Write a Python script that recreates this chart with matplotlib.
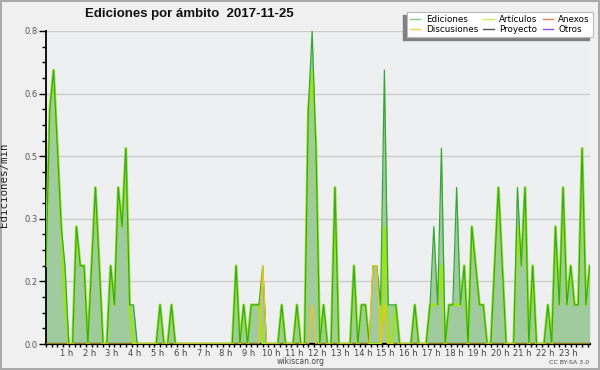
import numpy as np
import matplotlib
matplotlib.use("Agg")
import matplotlib.pyplot as plt
from matplotlib.lines import Line2D
from matplotlib.patches import Rectangle
from matplotlib.ticker import MultipleLocator, FixedLocator, FuncFormatter
import matplotlib.transforms as mtransforms

# edits per minute, one value per 10-minute bin (00:00 .. 23:50)
ediciones = [
    0.2, 0.6, 0.7, 0.5, 0.3, 0.2, 0, 0, 0.3, 0.2, 0.2, 0,
    0.2, 0.4, 0.2, 0, 0, 0.2, 0.1, 0.4, 0.3, 0.5, 0.1, 0.1,
    0, 0, 0, 0, 0, 0, 0.1, 0, 0, 0.1, 0, 0,
    0, 0, 0, 0, 0, 0, 0, 0, 0, 0, 0, 0,
    0, 0, 0.2, 0, 0.1, 0, 0.1, 0.1, 0.1, 0.2, 0, 0,
    0, 0, 0.1, 0, 0, 0, 0.1, 0, 0, 0.6, 0.8, 0.5,
    0, 0.1, 0, 0, 0.4, 0, 0, 0, 0, 0.2, 0, 0.1,
    0.1, 0, 0.2, 0.2, 0.1, 0.7, 0.1, 0.1, 0.1, 0, 0, 0,
    0, 0.1, 0, 0, 0, 0.1, 0.3, 0.1, 0.5, 0, 0.1, 0.1,
    0.4, 0.1, 0.2, 0, 0.3, 0.2, 0.1, 0.1, 0, 0, 0.2, 0.4,
    0.2, 0, 0, 0, 0.4, 0.2, 0.4, 0, 0.2, 0, 0, 0,
    0.1, 0, 0.3, 0.1, 0.4, 0.1, 0.2, 0.1, 0.1, 0.5, 0.1, 0.2,
]
articulos = [
    0.2, 0.6, 0.7, 0.5, 0.3, 0.1, 0, 0, 0.3, 0.2, 0.2, 0,
    0.2, 0.4, 0.2, 0, 0, 0.2, 0.1, 0.4, 0.3, 0.5, 0.1, 0,
    0, 0, 0, 0, 0, 0, 0.1, 0, 0, 0.1, 0, 0,
    0, 0, 0, 0, 0, 0, 0, 0, 0, 0, 0, 0,
    0, 0, 0.2, 0, 0.1, 0, 0.1, 0.1, 0.1, 0, 0, 0,
    0, 0, 0.1, 0, 0, 0, 0.1, 0, 0, 0.6, 0.7, 0.5,
    0, 0.1, 0, 0, 0.4, 0, 0, 0, 0, 0.2, 0, 0.1,
    0.1, 0, 0, 0, 0, 0.3, 0, 0, 0.1, 0, 0, 0,
    0, 0.1, 0, 0, 0, 0.1, 0.1, 0.1, 0.2, 0, 0.1, 0.1,
    0.1, 0.1, 0.2, 0, 0.3, 0.2, 0.1, 0.1, 0, 0, 0.2, 0.4,
    0.2, 0, 0, 0, 0.3, 0.2, 0.4, 0, 0.2, 0, 0, 0,
    0.1, 0, 0.3, 0.1, 0.4, 0.1, 0.2, 0.1, 0.1, 0.5, 0.1, 0.2,
]
discusiones = [0.0] * 144
for i, v in [(57, 0.2), (70, 0.1), (86, 0.2), (87, 0.2), (89, 0.1)]:
    discusiones[i] = v

hours = np.arange(len(ediciones)) / 6
hour_labels = ["%d h" % h for h in range(1, 24)]

c_ed = "#34a834"
c_fill = "#9fcb9f"
c_art = "#9ee41a"
c_disc = "#f2c418"
legend_colors = {
    "Ediciones": "#7fcf7f", "Discusiones": "#f5d050",
    "Artículos": "#c8f050", "Proyecto": "#555555",
    "Anexos": "#f08050", "Otros": "#9050e8",
}

fig = plt.figure(figsize=(6, 3.7), dpi=100, facecolor="#f0f0f0",
                 edgecolor="#aaaaaa", linewidth=1.5)
ax = fig.add_axes([46 / 600, 1 - 344 / 370, 543.7 / 600, 313 / 370])
ax.set_facecolor("#eeeff1")

ax.fill_between(hours, ediciones, color=c_fill, lw=0, zorder=2)
ax.plot(hours, articulos, color=c_art, lw=2.0, zorder=3)
ax.plot(hours, ediciones, color=c_ed, lw=0.9, zorder=4)
ax.plot(hours, discusiones, color=c_disc, lw=0.9, zorder=5)

ax.set_xlim(0, hours[-1])
ax.set_ylim(0, 0.8)

ax.yaxis.set_major_locator(FixedLocator(np.arange(0, 0.81, 0.16)))
ax.yaxis.set_minor_locator(MultipleLocator(0.04))
ax.yaxis.set_major_formatter(FuncFormatter(lambda v, p: "%.1f" % v))
ax.grid(axis="y", color="#cccccc", lw=1, zorder=1)

ax.xaxis.set_major_locator(FixedLocator(range(1, 24)))
ax.set_xticklabels(hour_labels)
ax.xaxis.set_minor_locator(MultipleLocator(0.25))

ax.tick_params(axis="y", which="major", length=5, width=1, pad=1,
               labelsize=6, labelcolor="#555555")
ax.tick_params(axis="y", which="minor", length=3, width=1)
ax.tick_params(axis="x", which="both", length=2.5, width=1, pad=1,
               labelsize=6, labelcolor="#444444")
shift = mtransforms.ScaledTranslation(-2.5 / 100, 0, fig.dpi_scale_trans)
for lab in ax.get_xticklabels():
    lab.set_transform(lab.get_transform() + shift)

for s in ["top", "right"]:
    ax.spines[s].set_visible(False)
ax.spines["left"].set_linewidth(1.3)
ax.spines["bottom"].set_linewidth(1.6)

ax.set_ylabel("Ediciones/min", family="DejaVu Sans Mono", fontsize=7.8,
              color="#222222")
ax.yaxis.set_label_coords(9 / 600, 1 - 185 / 370, transform=fig.transFigure)

fig.text(85 / 600, 1 - 14 / 370, "Ediciones por ámbito  2017-11-25",
         family="Liberation Sans", fontweight="bold", fontsize=9.5,
         ha="left", va="center", color="#111111")
fig.text(301 / 600, 1 - 361 / 370, "wikiscan.org", fontsize=5.5,
         color="#444444", ha="center", va="center")
fig.text(589 / 600, 1 - 362 / 370, "CC BY-SA 3.0", fontsize=4.5,
         color="#444444", ha="right", va="center")

order = ["Ediciones", "Discusiones", "Artículos", "Proyecto", "Anexos", "Otros"]
handles = [Line2D([], [], color=legend_colors[n], lw=1) for n in order]
leg = fig.legend(handles, order, loc="upper right", ncol=3,
                 bbox_to_anchor=(593 / 600, 1 - 12 / 370),
                 fontsize=6.3, frameon=True, fancybox=False,
                 edgecolor="#bbbbbb", facecolor="white", framealpha=1,
                 handlelength=1.2, handletextpad=0.6, columnspacing=0.6,
                 labelspacing=0.15, borderpad=0.35, borderaxespad=0)
leg.get_frame().set_linewidth(0.8)
leg.set_zorder(10)

fig.canvas.draw()
bb = leg.get_window_extent().transformed(fig.transFigure.inverted())
fig.add_artist(Rectangle((bb.x0 - 4 / 600, bb.y0 - 3 / 370), bb.width, bb.height,
                         transform=fig.transFigure, color="#808080", zorder=9))

fig.savefig("out.png", dpi=100, facecolor=fig.get_facecolor(),
            edgecolor=fig.get_edgecolor())
